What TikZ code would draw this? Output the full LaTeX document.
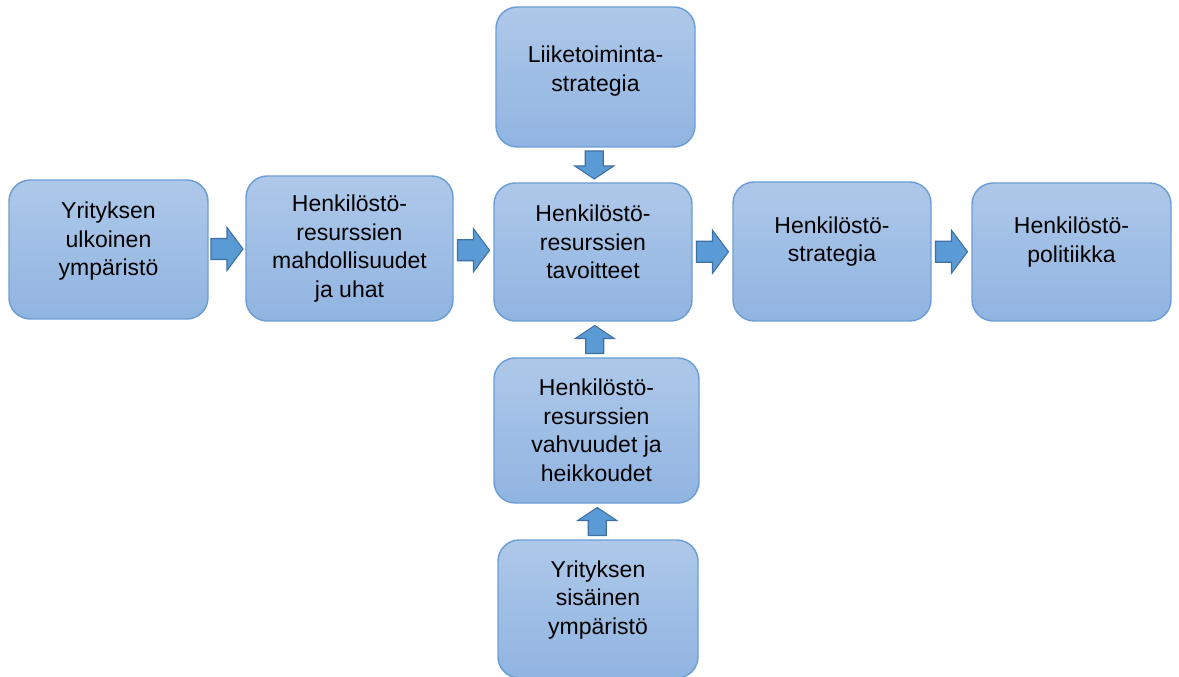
\documentclass[tikz,border=0pt]{standalone}
\usepackage{fontspec}
\setmainfont{Liberation Sans}
\usetikzlibrary{calc}
\definecolor{boxtop}{RGB}{174,200,233}
\definecolor{boxbot}{RGB}{144,180,225}
\definecolor{boxline}{RGB}{108,158,213}
\definecolor{arrfill}{RGB}{91,155,213}
\definecolor{arrline}{RGB}{62,112,165}
\begin{document}
\begin{tikzpicture}[x=0.75pt,y=-0.75pt,
  box/.style={draw=boxline, line width=1.1pt, rounded corners=16pt,
    top color=boxtop, bottom color=boxbot, inner sep=0pt},
  txt/.style={align=center, font=\fontsize{17.25}{21.4}\selectfont, inner sep=0pt, text=black},
  blockarrow/.style={fill=arrfill, draw=arrline, line width=0.8pt, line join=miter},
  harrow/.pic={\path[blockarrow] (-16,-10.5) -- (0,-10.5) -- (0,-21.5) -- (16,0) -- (0,21.5) -- (0,10.5) -- (-16,10.5) -- cycle;},
  varrow/.pic={\path[blockarrow] (-14,-9) -- (1,-9) -- (1,-19.5) -- (14,0) -- (1,19.5) -- (1,9) -- (-14,9) -- cycle;}
]
\useasboundingbox[fill=white] (0,0) rectangle (1179,677);

% boxes
\node[box, minimum width=149.25pt, minimum height=104.25pt] (A) at (108.5,249.5) {};
\node[box, minimum width=155.25pt, minimum height=108.75pt] (B) at (349.5,248.5) {};
\node[box, minimum width=148.5pt,  minimum height=103.5pt]  (C) at (593,252) {};
\node[box, minimum width=149.25pt, minimum height=105pt]    (T) at (595.5,77) {};
\node[box, minimum width=148.5pt,  minimum height=104.25pt] (D) at (832,251.5) {};
\node[box, minimum width=149.25pt, minimum height=103.5pt]  (E) at (1071.5,252) {};
\node[box, minimum width=153.75pt, minimum height=108.75pt] (F) at (596.5,430.5) {};
\node[box, minimum width=150pt,    minimum height=103.5pt]  (G) at (598,609) {};

% texts
\node[txt] (tA) at ($(A.center)+(0,-8)$) {Yrityksen\\ulkoinen\\ympäristö};
\node[txt] (tB) at ($(B.center)+(0,0)$) {Henkilöstö-\\resurssien\\mahdollisuudet\\ja uhat};
\node[txt] (tC) at ($(C.center)+(0,-10)$) {Henkilöstö-\\resurssien\\tavoitteet};
\node[txt] (tT) at ($(T.center)+(0,-6)$) {Liiketoiminta-\\strategia};
\node[txt] (tD) at ($(D.center)+(0,-10)$) {Henkilöstö-\\strategia};
\node[txt] (tE) at ($(E.center)+(0,-10)$) {Henkilöstö-\\politiikka};
\node[txt] (tF) at ($(F.center)+(0,0)$) {Henkilöstö-\\resurssien\\vahvuudet ja\\heikkoudet};
\node[txt] (tG) at ($(G.center)+(0,-9)$) {Yrityksen\\sisäinen\\ympäristö};

% block arrows
\pic at ($(A.east)!0.5!(B.west)$) {harrow};
\pic at ($(B.east)!0.5!(C.west)$) {harrow};
\pic at ($(C.east)!0.5!(D.west)$) {harrow};
\pic at ($(D.east)!0.5!(E.west)$) {harrow};
\pic[rotate=-90] at ($(T.south)!0.5!(C.north)$) {varrow};
\pic[rotate=90] at ($(F.north)!0.5!(C.south)$) {varrow};
\pic[rotate=90] at ($(G.north)!0.5!(F.south)$) {varrow};
\end{tikzpicture}
\end{document}
